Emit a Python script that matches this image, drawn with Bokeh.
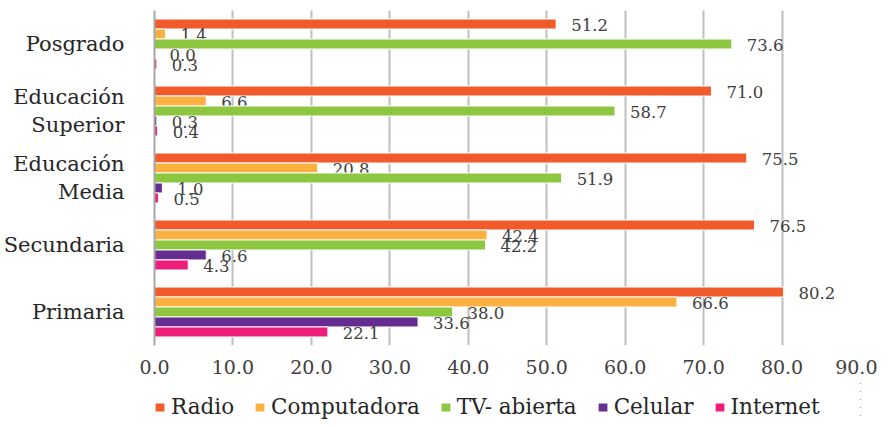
from bokeh.plotting import figure
from bokeh.layouts import column
from bokeh.models import FactorRange, Range1d, Legend, LegendItem, FixedTicker, ColumnDataSource
from bokeh.transform import dodge
from bokeh.core.properties import value
from bokeh.embed import file_html
from bokeh.resources import INLINE

categories = ["Primaria", "Secundaria", "Educación\nMedia", "Educación\nSuperior", "Posgrado"]
series_names = ["Radio", "Computadora", "TV- abierta", "Celular", "Internet"]
radio = [80.2, 76.5, 75.5, 71.0, 51.2]
computadora = [66.6, 42.4, 20.8, 6.6, 1.4]
tv_abierta = [38.0, 42.2, 51.9, 58.7, 73.6]
celular = [33.6, 6.6, 1.0, 0.3, 0.0]
internet = [22.1, 4.3, 0.5, 0.4, 0.3]
x_ticks = [0, 10, 20, 30, 40, 50, 60, 70, 80, 90]
x_tick_labels = ["0.0", "10.0", "20.0", "30.0", "40.0", "50.0", "60.0", "70.0", "80.0", "90.0"]

series_values = [radio, computadora, tv_abierta, celular, internet]
colors = ["#F15A2B", "#FBB040", "#8DC63F", "#662D91", "#ED1E79"]
FONT = "DejaVu Serif"
BAR_H = 0.149

p = figure(y_range=FactorRange(factors=categories, range_padding=0),
           x_range=Range1d(0, 90), width=877, height=379,
           output_backend="svg", toolbar_location=None,
           min_border_left=145, min_border_right=17,
           min_border_top=10, min_border_bottom=34)
p.outline_line_color = None
p.background_fill_color = "white"

# legend strip (its frame is aligned with the main plot's frame by the column layout)
lg = figure(width=877, height=40, y_range=FactorRange(factors=categories),
            x_range=Range1d(-2, -1), x_axis_location=None, y_axis_location=None,
            output_backend="svg", toolbar_location=None, min_border=0)
lg.grid.visible = False
lg.outline_line_color = None

items = []
for i, (name, vals, col) in enumerate(zip(series_names, series_values, colors)):
    off = (2 - i) * BAR_H
    src = ColumnDataSource(dict(cat=categories, val=vals, lab=["%.1f" % v for v in vals]))
    p.hbar(y=dodge("cat", off, range=p.y_range), left=0, right="val", height=BAR_H,
           source=src, fill_color=col, line_color="white", line_width=1)
    p.text(x="val", y=dodge("cat", off, range=p.y_range), text="lab", source=src,
           x_offset=15, y_offset=1, text_baseline="middle", text_align="left",
           text_font=value(FONT), text_font_size="16.5px", text_color="#404040")
    # same bars in the legend strip, outside its visible x range: only their legend swatch shows
    r = lg.hbar(y="cat", left=0, right="val", height=BAR_H, source=src,
                fill_color=col, line_color=None)
    items.append(LegendItem(label=name, renderers=[r]))

p.xgrid.ticker = FixedTicker(ticks=x_ticks)
p.xgrid.grid_line_color = "#BFBFBF"
p.xgrid.grid_line_width = 2
p.ygrid.grid_line_color = None

p.xaxis.ticker = FixedTicker(ticks=x_ticks)
p.xaxis.major_label_overrides = dict(zip(x_ticks, x_tick_labels))
p.xaxis.axis_line_color = None
p.xaxis.major_tick_line_color = None
p.xaxis.minor_tick_line_color = None
p.xaxis.major_label_standoff = 8
p.xaxis.major_label_text_font = FONT
p.xaxis.major_label_text_font_size = "19px"
p.xaxis.major_label_text_color = "#404040"

p.yaxis.axis_line_color = "#A6A6A6"
p.yaxis.axis_line_width = 2
p.yaxis.major_tick_line_color = None
p.yaxis.minor_tick_line_color = None
p.yaxis.major_label_standoff = 24
p.yaxis.major_label_text_font = FONT
p.yaxis.major_label_text_font_size = "21px"
p.yaxis.major_label_text_color = "#262626"

legend = Legend(items=items, orientation="horizontal", location=(0, 0),
                padding=0, margin=0, spacing=20, label_standoff=6,
                glyph_width=11, glyph_height=10,
                border_line_color=None, background_fill_alpha=0,
                label_text_font=FONT, label_text_font_size="21.5px",
                label_text_color="#262626")
lg.add_layout(legend)

layout = column(p, lg, spacing=0)
open("out.html", "w").write(file_html(layout, INLINE))
